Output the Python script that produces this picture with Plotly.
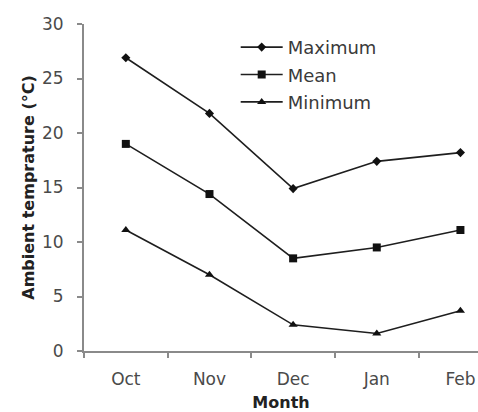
import plotly.graph_objects as go

months = ["Oct", "Nov", "Dec", "Jan", "Feb"]
maximum = [26.9, 21.8, 14.9, 17.4, 18.2]
mean = [19.0, 14.4, 8.5, 9.5, 11.1]
minimum = [11.1, 7.0, 2.4, 1.6, 3.7]
y_ticks = [0, 5, 10, 15, 20, 25, 30]

fig = go.Figure()
series = [("Maximum", maximum, "diamond", 7), ("Mean", mean, "square", 8), ("Minimum", minimum, "triangle-up", 8)]
for name, vals, sym, sz in series:
    fig.add_trace(go.Scatter(
        x=months, y=vals, name=name, mode="lines+markers", legendgroup=name,
        line=dict(color="#1e1e1e", width=1.6),
        marker=dict(symbol=sym, size=sz, color="#111111"),
    ))

font_family = "DejaVu Sans, sans-serif"
fig.update_layout(
    width=478, height=412,
    margin=dict(l=84, r=0, t=24, b=61),
    paper_bgcolor="white", plot_bgcolor="white",
    font=dict(family=font_family, color="#4a4a4a", size=17),
    showlegend=True,
    legend=dict(x=0.385, y=0.985, xanchor="left", yanchor="top",
                bgcolor="rgba(0,0,0,0)", itemwidth=42,
                font=dict(size=18, color="#3a3a3a"), tracegroupgap=1),
    xaxis=dict(
        type="category", range=[-0.5, 4.21],
        showline=True, linecolor="#8a8a8a", linewidth=2,
        ticks="outside", tickson="boundaries", ticklen=5, tickcolor="#8a8a8a", tickwidth=2,
        showgrid=False, zeroline=False, ticklabelstandoff=12,
        tickfont=dict(size=17, color="#4a4a4a"),
        title=dict(text="<b>Month</b>", font=dict(size=16, color="#222222"), standoff=11),
    ),
    yaxis=dict(
        range=[0, 30], tickvals=y_ticks,
        showline=True, linecolor="#8a8a8a", linewidth=2,
        ticks="outside", ticklen=5, tickcolor="#8a8a8a", tickwidth=2,
        showgrid=False, zeroline=False, ticklabelstandoff=10,
        tickfont=dict(size=17, color="#4a4a4a"),
        title=dict(text="<b>Ambient temprature (°C)</b>", font=dict(size=16, color="#222222"), standoff=3),
    ),
)

fig.write_html("out.html", config={"displayModeBar": False},
               post_script="document.body.style.margin='0';document.body.style.overflow='hidden';")
